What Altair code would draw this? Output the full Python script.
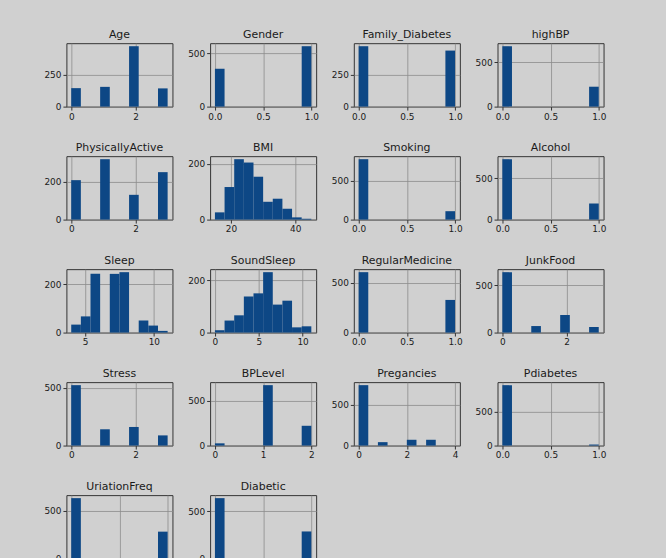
import altair as alt
import numpy as np
import pandas as pd

# Column names, in the order they appear in the grid
names = ["Age", "Gender", "Family_Diabetes", "highBP", "PhysicallyActive", "BMI",
         "Smoking", "Alcohol", "Sleep", "SoundSleep", "RegularMedicine", "JunkFood",
         "Stress", "BPLevel", "Pregancies", "Pdiabetes", "UriationFreq", "Diabetic"]

# Min / max of each column (the 10 histogram bins span this range)
lows = [0, 0, 0, 0, 0, 15, 0, 0, 4, 0, 0, 0, 0, 0, 0, 0, 0, 0]
highs = [3, 1, 1, 1, 3, 45, 1, 1, 11, 11, 1, 3, 3, 2, 4, 1, 1, 1]

# Counts per bin (10 bins each)
age = [145, 0, 0, 155, 0, 0, 474, 0, 0, 143]
gender = [356, 0, 0, 0, 0, 0, 0, 0, 0, 568]
family_diabetes = [470, 0, 0, 0, 0, 0, 0, 0, 0, 436]
high_bp = [683, 0, 0, 0, 0, 0, 0, 0, 0, 225]
physically_active = [207, 0, 0, 317, 0, 0, 130, 0, 0, 249]
bmi = [26, 117, 217, 205, 154, 64, 75, 39, 8, 3]
smoking = [783, 0, 0, 0, 0, 0, 0, 0, 0, 109]
alcohol = [732, 0, 0, 0, 0, 0, 0, 0, 0, 195]
sleep = [33, 67, 243, 0, 243, 250, 0, 50, 29, 7]
sound_sleep = [9, 46, 66, 138, 150, 231, 107, 122, 20, 24]
regular_medicine = [605, 0, 0, 0, 0, 0, 0, 0, 0, 327]
junk_food = [638, 0, 0, 69, 0, 0, 186, 0, 0, 59]
stress = [523, 0, 0, 141, 0, 0, 161, 0, 0, 88]
bp_level = [25, 0, 0, 0, 0, 678, 0, 0, 0, 222]
pregancies = [741, 0, 42, 0, 0, 71, 0, 71, 0, 0]
pdiabetes = [886, 0, 0, 0, 0, 0, 0, 0, 0, 15]
uriation_freq = [629, 0, 0, 0, 0, 0, 0, 0, 0, 280]
diabetic = [640, 0, 0, 0, 0, 0, 0, 0, 0, 287]

counts = [age, gender, family_diabetes, high_bp, physically_active, bmi,
          smoking, alcohol, sleep, sound_sleep, regular_medicine, junk_food,
          stress, bp_level, pregancies, pdiabetes, uriation_freq, diabetic]

# Tick positions on each axis
x_ticks = [[0, 2], [0, 0.5, 1], [0, 0.5, 1], [0, 0.5, 1], [0, 2], [20, 40],
           [0, 0.5, 1], [0, 0.5, 1], [5, 10], [0, 5, 10], [0, 0.5, 1], [0, 2],
           [0, 2], [0, 1, 2], [0, 2, 4], [0, 0.5, 1], [0, 0.5, 1], [0, 0.5, 1]]
y_ticks = [[0, 250], [0, 500], [0, 250], [0, 500], [0, 200], [0, 200],
           [0, 500], [0, 500], [0, 200], [0, 200], [0, 500], [0, 500],
           [0, 500], [0, 500], [0, 500], [0, 500], [0, 500], [0, 500]]
x_formats = ["d", ".1f", ".1f", ".1f", "d", "d", ".1f", ".1f", "d", "d", ".1f", "d",
             "d", "d", "d", ".1f", ".1f", ".1f"]

BAR = "#0d4785"
FRAME = "#333333"
GRID = "#8c8c8c"
BG = "#d0d0d0"
FONT = "DejaVu Sans"

panels = []
for i, (name, lo, hi, cnt, xt, yt, xf) in enumerate(
        zip(names, lows, highs, counts, x_ticks, y_ticks, x_formats)):
    edges = np.linspace(lo, hi, len(cnt) + 1)
    df = pd.DataFrame({"start": edges[:-1], "end": edges[1:], "count": cnt})
    pad = 0.05 * (hi - lo)
    ymax = 1.05 * max(cnt)
    last_row = i >= 16
    panel = (
        alt.Chart(df, title=alt.TitleParams(name, fontSize=11, fontWeight="normal",
                                            font=FONT, color="#1a1a1a", offset=3))
        .mark_bar(color=BAR, cornerRadius=0)
        .encode(
            x=alt.X("start:Q", title=None,
                    scale=alt.Scale(domain=[lo - pad, hi + pad], nice=False, zero=False),
                    axis=alt.Axis(values=xt, format=xf, grid=True, labels=not last_row)),
            x2="end:Q",
            y=alt.Y("count:Q", title=None,
                    scale=alt.Scale(domain=[0, ymax], nice=False),
                    axis=alt.Axis(values=yt, format="d", grid=True)),
            y2=alt.datum(0),
        )
        .properties(width=107, height=64)
    )
    panels.append(panel)

chart = (
    alt.concat(*panels, columns=4, spacing={"row": 50, "column": 38}, bounds="flush")
    .properties(padding={"left": 43, "top": 26, "right": 60, "bottom": 5}, background=BG)
    .configure_view(stroke=FRAME, strokeWidth=1, fill=BG)
    .configure_axis(
        labelFont=FONT, labelFontSize=9, labelColor="#1a1a1a", labelPadding=2,
        tickColor=FRAME, tickSize=3.5, domain=False,
        gridColor=GRID, gridWidth=0.8, labelFlush=False, labelOverlap=False,
    )
)

chart.save("out.html", embed_options={"renderer": "svg", "actions": False})
